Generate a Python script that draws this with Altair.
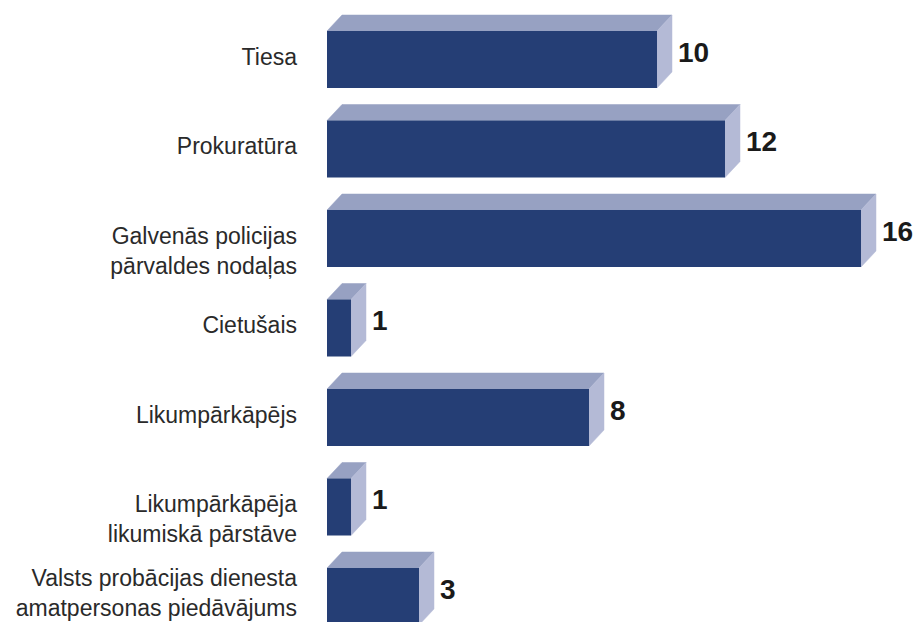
import altair as alt
import pandas as pd

categories = [
    "Tiesa",
    "Prokuratūra",
    "Galvenās policijas\npārvaldes nodaļas",
    "Cietušais",
    "Likumpārkāpējs",
    "Likumpārkāpēja\nlikumiskā pārstāve",
    "Valsts probācijas dienesta\namatpersonas piedāvājums",
]
values = [10, 12, 16, 1, 8, 1, 3]

# layout / style constants
X0 = 0.294            # value at which bars start
PX_PER_UNIT = 34.0
ROW_PX = 89.5
Y0 = 59.5             # page y of first row centre
PAD_LEFT = 319
W, H = 906 - PAD_LEFT, 614
FRONT_HALF = 28.5 / ROW_PX
DX = 15.0 / PX_PER_UNIT
DY = 16.0 / ROW_PX
FRONT = "#253E75"
TOP = "#97A1C2"
SIDE = "#B4BAD6"
FONT = "Liberation Sans, Arial, sans-serif"

rows = list(range(len(categories)))
# last label nudged up so that its second line stays inside the canvas
label_shift = [0, 0, 0, 0, 0, 0, -0.17]

front = pd.DataFrame({
    "row": rows, "v": values, "x0": [X0] * len(rows),
    "y1": [r - FRONT_HALF for r in rows], "y2": [r + FRONT_HALF for r in rows],
    "label": categories, "vx": [v + DX for v in values],
    "ly": [r + s for r, s in zip(rows, label_shift)],
})

top_pts, side_pts = [], []
for r, v in zip(rows, values):
    top_pts.append({"row": r, "y": r - FRONT_HALF, "xa": X0, "xb": v})
    top_pts.append({"row": r, "y": r - FRONT_HALF - DY, "xa": X0 + DX, "xb": v + DX})
    side_pts.append({"row": r, "x": v, "ya": r - FRONT_HALF, "yb": r + FRONT_HALF})
    side_pts.append({"row": r, "x": v + DX, "ya": r - FRONT_HALF - DY, "yb": r + FRONT_HALF - DY})
top_df = pd.DataFrame(top_pts)
side_df = pd.DataFrame(side_pts)

y_top = (8.0 - Y0) / ROW_PX
y_bot = y_top + H / ROW_PX
xs = alt.Scale(domain=[X0, X0 + W / PX_PER_UNIT], zero=False, nice=False)
ys = alt.Scale(domain=[y_top, y_bot], reverse=True, zero=False, nice=False)

bars = alt.Chart(front).mark_bar(color=FRONT).encode(
    x=alt.X("x0:Q", scale=xs, axis=None),
    x2="v:Q",
    y=alt.Y("y1:Q", scale=ys, axis=None),
    y2="y2:Q",
)

top_face = alt.Chart(top_df).mark_area(orient="horizontal", color=TOP, stroke=TOP, strokeWidth=0.5).encode(
    y=alt.Y("y:Q", scale=ys, axis=None),
    x=alt.X("xa:Q", scale=xs, axis=None),
    x2="xb:Q",
    detail="row:N",
)

side_face = alt.Chart(side_df).mark_area(orient="vertical", color=SIDE, stroke=SIDE, strokeWidth=0.5).encode(
    x=alt.X("x:Q", scale=xs, axis=None),
    y=alt.Y("ya:Q", scale=ys, axis=None),
    y2="yb:Q",
    detail="row:N",
)

value_text = alt.Chart(front).mark_text(
    align="left", baseline="middle", dx=6, dy=-6, font=FONT, fontWeight="bold",
    fontSize=28, color="#1a1a1a",
).encode(
    x=alt.X("vx:Q", scale=xs, axis=None),
    y=alt.Y("row:Q", scale=ys, axis=None),
    text="v:Q",
)

labels = alt.Chart(front).mark_text(
    align="right", baseline="middle", dx=-30, dy=-2, font=FONT, fontSize=23,
    lineBreak="\n", lineHeight=30, color="#2a2a2a",
).encode(
    x=alt.X("x0:Q", scale=xs, axis=None),
    y=alt.Y("ly:Q", scale=ys, axis=None),
    text="label:N",
)

chart = alt.layer(top_face, side_face, bars, value_text, labels).properties(
    width=W, height=H,
    autosize=alt.AutoSizeParams(type="none"),
    padding={"left": PAD_LEFT, "top": 0, "right": 0, "bottom": 0},
    background="white",
).configure_view(stroke=None)

chart.save("out.html", embed_options={"renderer": "svg", "actions": False})
